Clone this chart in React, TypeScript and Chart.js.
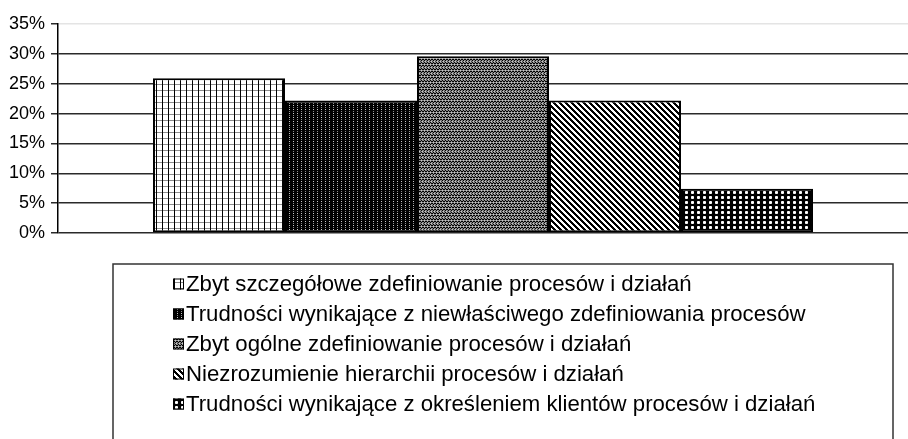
import React, { useEffect, useRef } from "react";
import { Chart, registerables } from "chart.js";

Chart.register(...registerables);

const categories = [""];
const seriesLabels = [
  "Zbyt szczegółowe zdefiniowanie procesów i działań",
  "Trudności wynikające z niewłaściwego zdefiniowania procesów",
  "Zbyt ogólne zdefiniowanie procesów i działań",
  "Niezrozumienie hierarchii procesów i działań",
  "Trudności wynikające z określeniem klientów procesów i działań",
];
const seriesValues = [25.9, 22.2, 29.6, 22.2, 7.4];
const yMin = 0;
const yMax = 35;
const yStep = 5;

// pattern tiles: K black, W white, G gray, L light gray, D dark gray
const tiles: string[][] = [
  ["KGGGGG", "KWWWWW", "KWWWWW", "KWWWWW", "KWWWWW", "KWWWWW"],
  ["KKKK", "KLKK", "KKKK", "KGKK"],
  ["GKGGKG", "DGLDGL", "GKGGKG", "KGKKGK", "GLGGLG", "KGKKGK"],
  ["KKKWWW", "WKKKWW", "WWKKKW", "WWWKKK", "KWWWKK", "KKWWWK"],
  ["KKKKKK", "KLWLKK", "KWWWKK", "KLWLKK", "KKKKKK"],
];
const colorMap: Record<string, string> = {
  K: "#000000",
  W: "#ffffff",
  G: "#8c8c8c",
  L: "#c8c8c8",
  D: "#444444",
};

function makePattern(ctx: CanvasRenderingContext2D, rows: string[]) {
  const c = document.createElement("canvas");
  c.width = rows[0].length;
  c.height = rows.length;
  const t = c.getContext("2d")!;
  rows.forEach((r, y) => {
    for (let x = 0; x < r.length; x++) {
      t.fillStyle = colorMap[r[x]];
      t.fillRect(x, y, 1, 1);
    }
  });
  return ctx.createPattern(c, "repeat")!;
}

const LEGEND = {
  left: 113,
  top: 264,
  right: 893,
  firstRow: 284,
  rowStep: 30,
  iconX: 173,
  iconSize: 11,
  textX: 186,
  font: '22.2px "Liberation Sans", Arial, sans-serif',
};

const boxLegend = {
  id: "boxLegend",
  afterDraw(chart: any) {
    const ctx: CanvasRenderingContext2D = chart.ctx;
    ctx.save();
    ctx.strokeStyle = "#333";
    ctx.lineWidth = 1.5;
    ctx.strokeRect(LEGEND.left, LEGEND.top, LEGEND.right - LEGEND.left, chart.height + 20 - LEGEND.top);
    ctx.font = LEGEND.font;
    ctx.textBaseline = "middle";
    ctx.textAlign = "left";
    chart.data.datasets.forEach((ds: any, i: number) => {
      const cy = LEGEND.firstRow + i * LEGEND.rowStep;
      const s = LEGEND.iconSize;
      ctx.fillStyle = ds.backgroundColor;
      ctx.fillRect(LEGEND.iconX, cy - s / 2, s, s);
      ctx.strokeStyle = "#000";
      ctx.lineWidth = 1;
      ctx.strokeRect(LEGEND.iconX + 0.5, cy - s / 2 + 0.5, s - 1, s - 1);
      ctx.fillStyle = "#000";
      ctx.fillText(ds.label, LEGEND.textX, cy + 1);
    });
    ctx.restore();
  },
};

export default function App() {
  const ref = useRef<HTMLCanvasElement>(null);
  useEffect(() => {
    document.body.style.margin = "0";
    const canvas = ref.current!;
    const ctx = canvas.getContext("2d")!;
    const chart = new Chart(ctx, {
      type: "bar",
      data: {
        labels: categories,
        datasets: seriesLabels.map((label, i) => ({
          label,
          data: [seriesValues[i]],
          backgroundColor: makePattern(ctx, tiles[i]) as any,
          borderColor: "#000",
          borderWidth: 2,
          borderSkipped: false,
          categoryPercentage: 0.7765,
          barPercentage: 1,
        })),
      },
      options: {
        animation: false,
        responsive: false,
        layout: { padding: { top: 24, right: 0, bottom: 206, left: 0 } },
        plugins: {
          legend: { display: false },
          tooltip: { enabled: false },
        },
        scales: {
          x: { display: false },
          y: {
            min: yMin,
            max: yMax,
            ticks: {
              stepSize: yStep,
              padding: 6,
              color: "#000",
              font: { family: '"Liberation Sans", Arial, sans-serif', size: 18 },
              callback: (v: any) => v + "%",
            },
            grid: {
              color: (c: any) => (c.tick && c.tick.value === yMax ? "#e4e4e4" : "#2a2a2a"),
              lineWidth: 1.5,
              tickLength: 7,
              tickColor: "#2a2a2a",
            },
            border: { display: true, color: "#000", width: 1.5 },
            afterFit: (s: any) => {
              s.width = 58;
            },
          },
        },
      },
      plugins: [boxLegend],
    });
    return () => chart.destroy();
  }, []);
  return <canvas ref={ref} width={908} height={439} style={{ display: "block" }} />;
}
